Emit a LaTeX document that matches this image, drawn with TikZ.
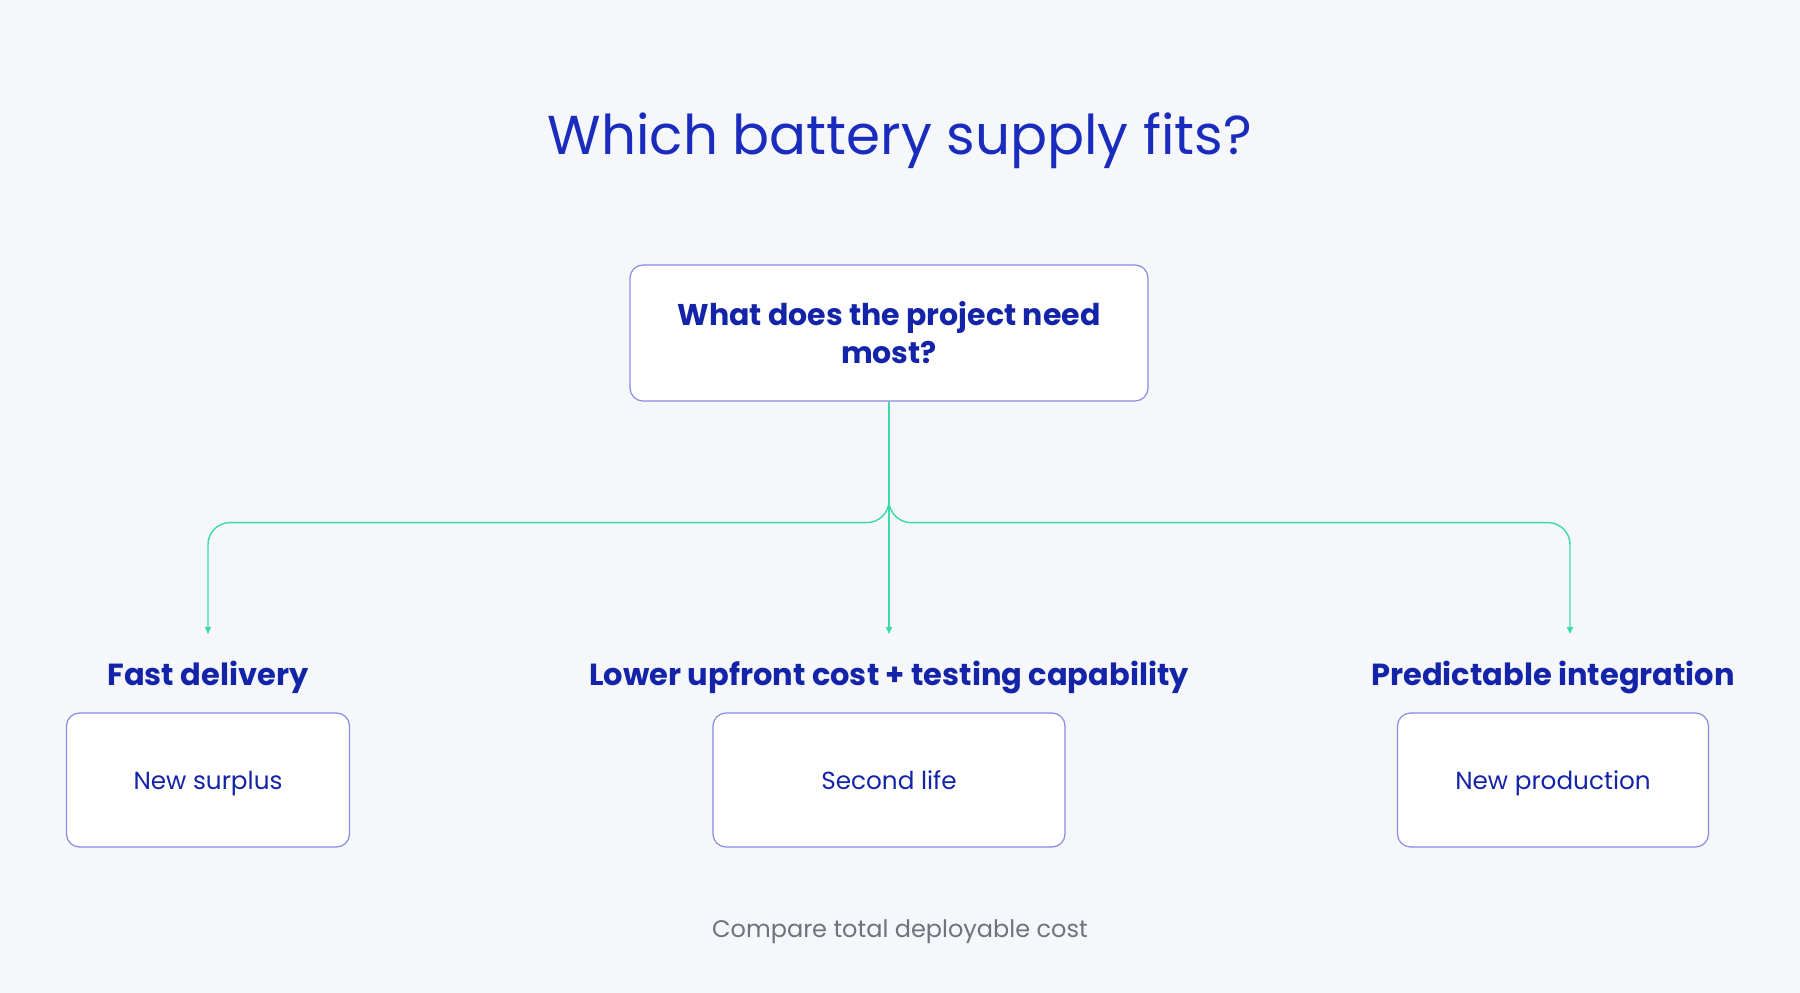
\documentclass[tikz,border=0pt]{standalone}
\usepackage{fontspec}
\setmainfont{Poppins}
\usetikzlibrary{arrows.meta, positioning, calc}

\definecolor{paper}{RGB}{246,247,250}
\definecolor{headblue}{RGB}{26,44,190}
\definecolor{inkblue}{RGB}{20,36,168}
\definecolor{edge}{RGB}{140,136,226}
\definecolor{flow}{RGB}{62,218,164}
\definecolor{note}{RGB}{112,114,124}

\begin{document}
\begin{tikzpicture}[x=1pt, y=1pt,
        box/.style={draw=edge, fill=white, line width=1.2pt, rounded corners=13pt, align=center, text=inkblue},
        question/.style={box, minimum width=518pt, minimum height=136pt, font=\bfseries\fontsize{30}{38}\selectfont},
        option/.style={box, minimum height=134pt, text height=24pt, text depth=4pt, font=\fontsize{24.7}{28}\selectfont},
        pick/.style={font=\bfseries\fontsize{30.5}{34}\selectfont, text=inkblue, inner sep=0pt, anchor=base},
        branch/.style={draw=flow, line width=1.4pt, rounded corners=22pt, -{Triangle[length=7pt, width=6pt]}}]
        \fill[paper] (0,0) rectangle (1800,993);
        \useasboundingbox (0,0) rectangle (1800,993);
        % heading and question
        \node[font=\fontsize{54.8}{62}\selectfont, text=headblue, anchor=base] (title) at (900,838) {Which battery supply fits?};
        \node[question] (need) at (889,660) {What does the project need\\most?};
        % what matters most
        \node[pick] (fast) at (208,307) {Fast delivery};
        \node[pick] (cheap) at (889,307) {Lower upfront cost + testing capability};
        \node[pick] (steady) at (1553,307) {Predictable integration};
        % supply options
        \node[option, minimum width=283pt] (surplus) at (208,213) {New surplus};
        \node[option, minimum width=352pt] (second) at (889,213) {Second life};
        \node[option, minimum width=311pt] (production) at (1553,213) {New production};
        \node[font=\fontsize{24}{28}\selectfont, text=note, anchor=base] (compare) at (900,55) {Compare total deployable cost};
        % arrow ends
        \coordinate (fastin) at (208,359);
        \coordinate (cheapin) at (889,359);
        \coordinate (steadyin) at (1570,359);
        \path[branch] (need.south) -- ++(0,-121) -| (fastin);
        \path[branch] (need.south) -- (cheapin);
        \path[branch] (need.south) -- ++(0,-121) -| (steadyin);
\end{tikzpicture}
\end{document}
